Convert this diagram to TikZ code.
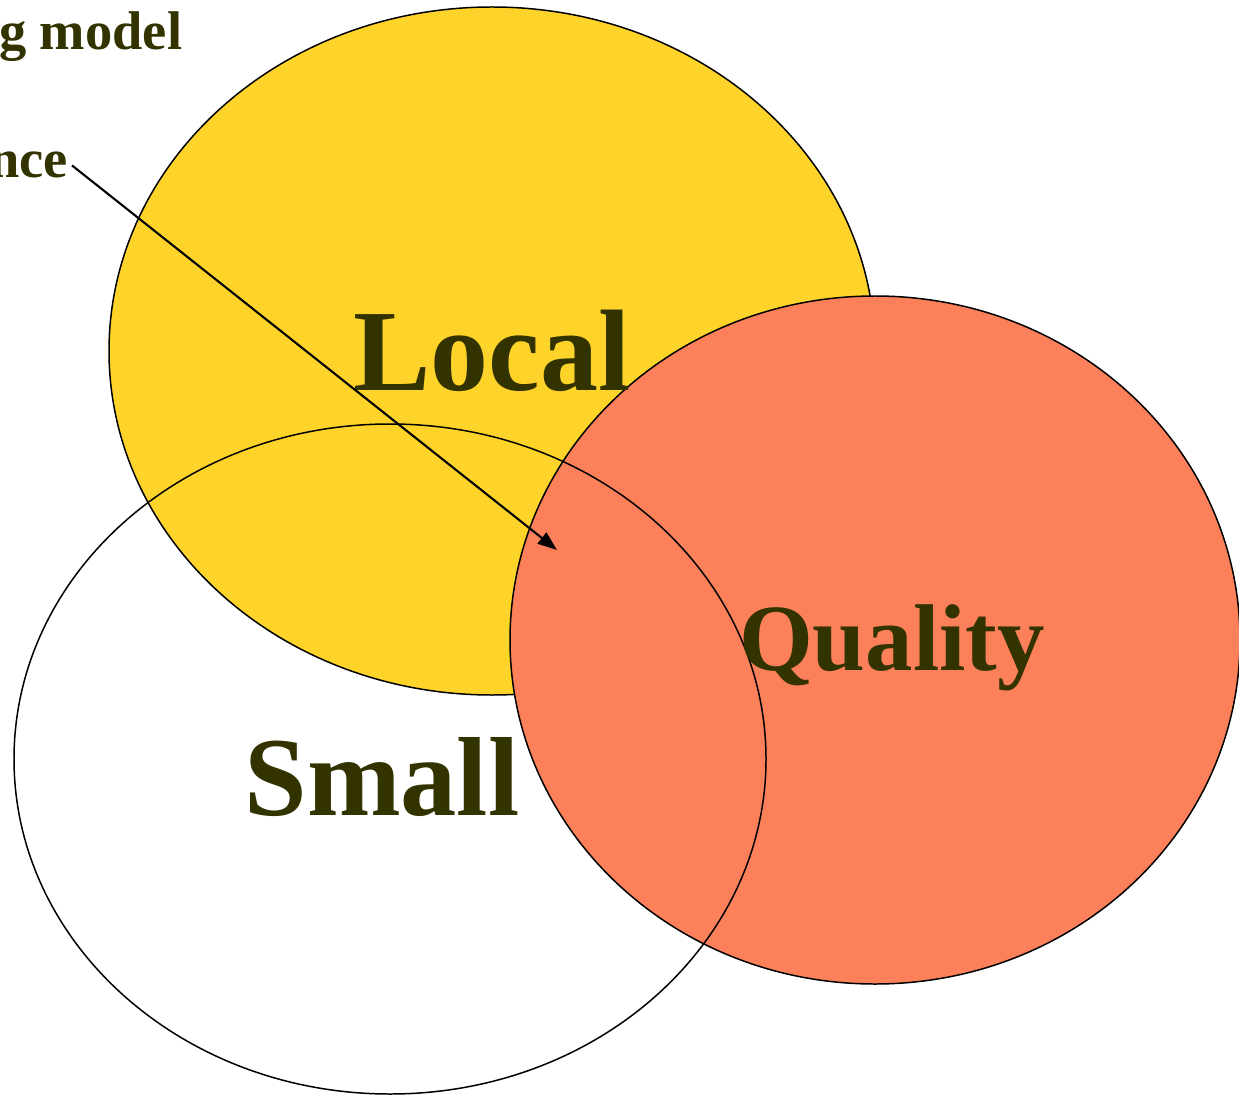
\documentclass[tikz,border=0pt]{standalone}
\usepackage{fontspec}
\setmainfont{Liberation Serif}
\usetikzlibrary{arrows.meta}
\definecolor{localyellow}{RGB}{255,212,42}
\definecolor{qualityred}{RGB}{252,128,90}
\definecolor{labelolive}{RGB}{51,51,0}
\begin{document}
\begin{tikzpicture}[x=0.02cm,y=-0.02cm,
  setline/.style={draw=black,line width=0.85pt},
  setlabel/.style={text=labelolive,font=\bfseries,anchor=base,inner sep=0pt},
  sidelabel/.style={text=labelolive,font=\bfseries\fontsize{31}{35}\selectfont,anchor=base east,inner sep=2pt}]
\clip (0,0) rectangle (1239,1094);
\fill[white] (0,0) rectangle (1239,1094);

% the three sets
\draw[setline,fill=localyellow] (492,351) ellipse [x radius=383, y radius=344];
\draw[setline,fill=qualityred] (875,640) ellipse [x radius=365, y radius=344];
\draw[setline] (390,759) ellipse [x radius=376, y radius=335];

\node[setlabel,font=\bfseries\fontsize{66}{70}\selectfont] (local) at (492,390) {Local};
\node[setlabel,font=\bfseries\fontsize{64}{68}\selectfont] (small) at (382,815) {Small};
\node[setlabel,font=\bfseries\fontsize{54}{58}\selectfont] (quality) at (892,670) {Quality};

% captions that run off the left edge
\node[sidelabel] (model) at (186,50) {g model};
\node[sidelabel] (nce) at (72,178) {nce};

\coordinate (tip) at (557,550);
\draw[line width=1.2pt,-{Triangle[length=11pt,width=8pt]}] (nce.east) -- (tip);
\end{tikzpicture}
\end{document}
